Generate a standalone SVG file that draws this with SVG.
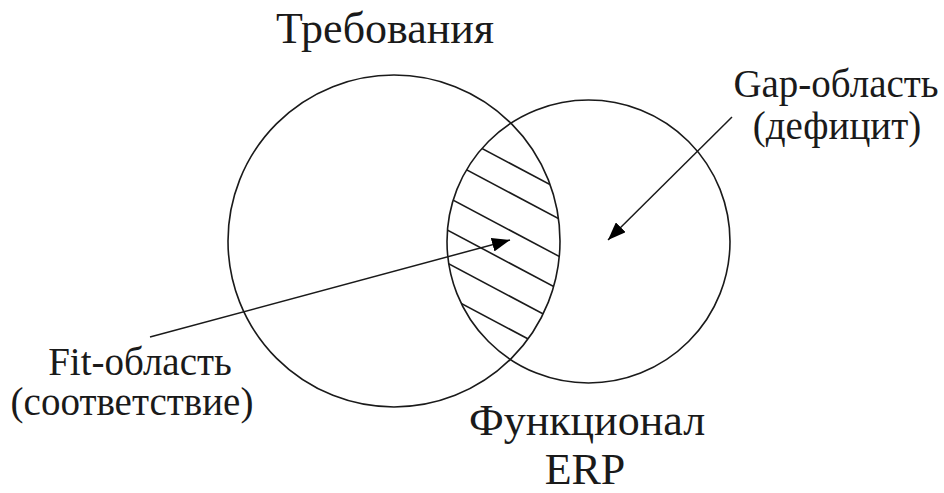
<svg xmlns="http://www.w3.org/2000/svg" width="944" height="493" viewBox="0 0 944 493">
<style>
.c{fill:none;stroke:#1a1a1a;stroke-width:1.6}
.h{stroke:#1a1a1a;stroke-width:1.6}
.a{stroke:#1a1a1a;stroke-width:1.5;fill:none}
text{font-family:'Liberation Serif','Times New Roman',serif;fill:#1a1a1a;text-anchor:middle}
.big{font-size:44px}
.sm{font-size:39px}
</style>
<defs>
<clipPath id="cl"><circle cx="394" cy="241" r="166"/></clipPath>
<clipPath id="cr"><circle cx="588.5" cy="241.5" r="141.5"/></clipPath>
<marker id="ah" viewBox="0 0 18 14" refX="18" refY="7" markerWidth="18" markerHeight="14" markerUnits="userSpaceOnUse" orient="auto">
<path d="M0,0 L18,7 L0,14 Z" fill="#000"/>
</marker>
</defs>
<g id="requirements">
<circle class="c" cx="394" cy="241" r="166"/>
<text class="big" x="385" y="43">Требования</text>
</g>
<g id="erp">
<circle class="c" cx="588.5" cy="241.5" r="141.5"/>
<text class="big" x="587" y="435">Функционал</text>
<text class="big" x="585" y="484">ERP</text>
</g>
<g id="fit-hatch" clip-path="url(#cl)">
<g clip-path="url(#cr)">
<line class="h" x1="400" y1="105" x2="620" y2="221.6"/>
<line class="h" x1="400" y1="134.5" x2="620" y2="251.1"/>
<line class="h" x1="400" y1="172" x2="620" y2="288.6"/>
<line class="h" x1="400" y1="205" x2="620" y2="321.6"/>
<line class="h" x1="400" y1="238" x2="620" y2="354.6"/>
<line class="h" x1="400" y1="271" x2="620" y2="387.6"/>
</g>
</g>
<g id="fit-label">
<text class="sm" x="140" y="375">Fit-область</text>
<text class="sm" x="132" y="415">(соответствие)</text>
</g>
<g id="gap-label">
<text class="sm" x="836" y="97">Gap-область</text>
<text class="sm" x="837" y="139">(дефицит)</text>
</g>
<g id="connectors">
<line class="a" x1="150" y1="337" x2="510" y2="240" marker-end="url(#ah)"/>
<line class="a" x1="732" y1="117" x2="608" y2="240" marker-end="url(#ah)"/>
</g>
</svg>
